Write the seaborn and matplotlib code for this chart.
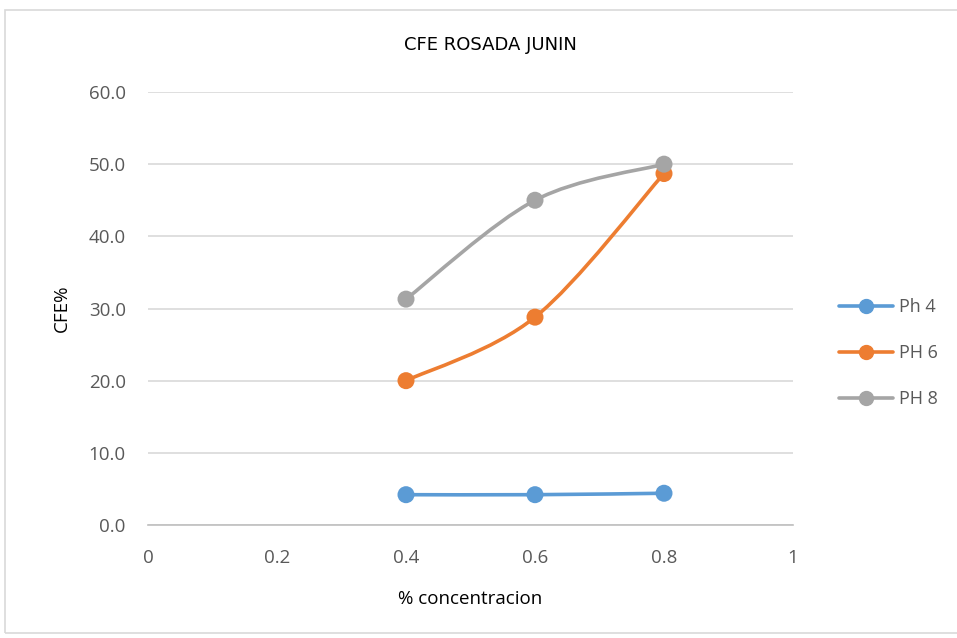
import numpy as np
import pandas as pd
import matplotlib
matplotlib.use('Agg')
import matplotlib.pyplot as plt
import seaborn as sns
from matplotlib.path import Path
from matplotlib.patches import PathPatch, Rectangle
from matplotlib.lines import Line2D

# data
concentracion = [0.4, 0.6, 0.8]
ph4 = [4.2, 4.2, 4.4]
ph6 = [20.0, 28.8, 48.7]
ph8 = [31.3, 45.0, 50.0]
series_names = ['Ph 4', 'PH 6', 'PH 8']
colors = ['#5B9BD5', '#ED7D31', '#A5A5A5']

df = pd.DataFrame({
    'conc': concentracion * 3,
    'cfe': ph4 + ph6 + ph8,
    'serie': [n for n in series_names for _ in concentracion],
})

sns.set_theme(style='white')
plt.rcParams['font.family'] = ['Open Sans', 'DejaVu Sans']

fig = plt.figure(figsize=(9.57, 6.38), dpi=100)
ax = fig.add_axes([148 / 957, 1 - 525 / 638, (793 - 148) / 957, (525 - 92) / 638])

# chart border like the excel frame
fig.patches.append(Rectangle((5 / 957, 5 / 638), 960 / 957, 623 / 638, transform=fig.transFigure,
                             fill=False, edgecolor='#d9d9d9', linewidth=1.2))


def smooth_path(xs, ys):
    # excel-like smoothed line: cubic bezier segments through the points
    pts = np.column_stack([xs, ys])
    verts = [pts[0]]
    codes = [Path.MOVETO]
    n = len(pts)
    for i in range(n - 1):
        p0 = pts[i - 1] if i > 0 else pts[i]
        p1 = pts[i]
        p2 = pts[i + 1]
        p3 = pts[i + 2] if i + 2 < n else pts[i + 1]
        c1 = p1 + (p2 - p0) / 6
        c2 = p2 - (p3 - p1) / 6
        verts += [c1, c2, p2]
        codes += [Path.CURVE4] * 3
    return Path(verts, codes)


for name, ys, c in zip(series_names, [ph4, ph6, ph8], colors):
    ax.add_patch(PathPatch(smooth_path(concentracion, ys), fill=False, edgecolor=c,
                           linewidth=2.6, capstyle='round', zorder=2))

sns.scatterplot(data=df, x='conc', y='cfe', hue='serie', palette=colors, s=150,
                edgecolor='none', legend=False, ax=ax, zorder=3)

ax.set_xlim(0, 1)
ax.set_ylim(0, 60)
ax.set_xticks([0, 0.2, 0.4, 0.6, 0.8, 1])
ax.set_xticklabels(['0', '0.2', '0.4', '0.6', '0.8', '1'])
ax.set_yticks(np.arange(0, 61, 10))
ax.set_yticklabels([f'{v:.1f}' for v in np.arange(0, 61, 10)])
ax.tick_params(axis='both', labelsize=13.5, colors='#595959', length=0)
ax.tick_params(axis='x', pad=17)
ax.tick_params(axis='y', pad=16)
ax.yaxis.grid(True, color='#d9d9d9', linewidth=1.2)
ax.xaxis.grid(False)
for s in ['top', 'right', 'left']:
    ax.spines[s].set_visible(False)
ax.spines['bottom'].set_color('#bfbfbf')
ax.spines['bottom'].set_linewidth(1.2)

ax.set_xlabel('% concentracion', fontsize=13.5, color='black', labelpad=17)
ax.set_ylabel('CFE%', fontsize=13.5, color='black', labelpad=12.5)
fig.text(490 / 957, 1 - 45 / 638, 'CFE ROSADA JUNIN', ha='center', va='center', fontsize=13,
         family=['Liberation Sans Narrow', 'DejaVu Sans'], color='black')

handles = [Line2D([0], [0], color=c, linewidth=2.6, marker='o', markersize=10) for c in colors]
fig.legend(handles, series_names, loc='center left', bbox_to_anchor=(823 / 957, 1 - 353 / 638),
           frameon=False, fontsize=13, labelcolor='#595959', handlelength=3.0,
           labelspacing=1.55, handletextpad=0.3)

fig.savefig('out.png', dpi=100)
